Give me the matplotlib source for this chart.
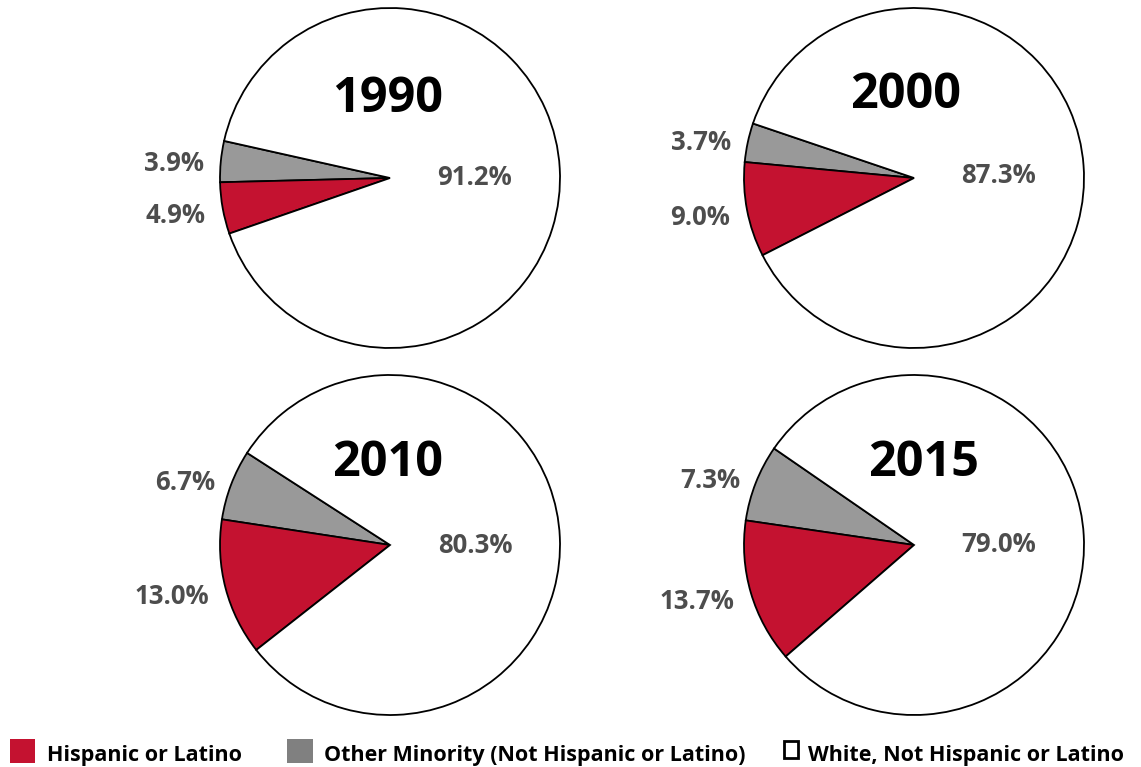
import numpy as np
import matplotlib
matplotlib.use("Agg")
import matplotlib.pyplot as plt
from matplotlib.patches import Rectangle

# data (percent of population)
years = ["1990", "2000", "2010", "2015"]
hispanic = [4.9, 9.0, 13.0, 13.7]
other = [3.9, 3.7, 6.7, 7.3]
white = [91.2, 87.3, 80.3, 79.0]
legend_labels = ["Hispanic or Latino",
                 "Other Minority (Not Hispanic or Latino)",
                 "White, Not Hispanic or Latino"]

# layout (pixel coordinates, y measured from top)
W, H = 1141, 767
centers = [(390, 178), (914, 178), (390, 545), (914, 545)]
year_pos = [(388, 100), (906, 95), (388, 464), (924, 464)]
start_angles = [167.4, 161.3, 147.2, 145.4]
R = 170
dy = -4  # nudge text down a little (font has tall descent box)

red = "#c41230"
gray = "#999999"
text_gray = "#4d4d4d"
lab_style = dict(fontsize=18.5, fontweight="bold", color=text_gray, family="Open Sans")

fig = plt.figure(figsize=(W / 100, H / 100), dpi=100)
ax = fig.add_axes([0, 0, 1, 1])

for i in range(4):
    cx, cy = centers[i]
    vals = [other[i], hispanic[i], white[i]]
    wedges, _ = ax.pie(vals, colors=[gray, red, "white"],
                       startangle=start_angles[i], counterclock=True,
                       center=(cx, H - cy), radius=R,
                       wedgeprops=dict(edgecolor="black", linewidth=1.3))
    # minority labels just outside the pie, right aligned
    for w, v in zip(wedges[:2], vals[:2]):
        mid = np.deg2rad((w.theta1 + w.theta2) / 2)
        ax.text(cx + 1.1 * R * np.cos(mid), H - cy + 1.1 * R * np.sin(mid) + dy,
                "%.1f%%" % v, ha="right", va="center", **lab_style)
    # white share label inside the big slice
    w = wedges[2]
    mid = np.deg2rad((w.theta1 + w.theta2) / 2)
    ax.text(cx + 0.5 * R * np.cos(mid), H - cy + 0.5 * R * np.sin(mid) + dy,
            "%.1f%%" % white[i], ha="center", va="center", **lab_style)
    yx, yy = year_pos[i]
    ax.text(yx, H - yy, years[i], ha="center", va="center", fontsize=35,
            fontweight="bold", color="black", family="Open Sans")

# legend along the bottom
ax.add_patch(Rectangle((10, H - 763), 25, 24, facecolor=red, edgecolor="none"))
ax.add_patch(Rectangle((287, H - 763), 26, 24, facecolor="#808080", edgecolor="none"))
ax.add_patch(Rectangle((784, H - 758), 14, 17, facecolor="white", edgecolor="black", linewidth=2))
for x, lab in zip([47, 324, 808], legend_labels):
    ax.text(x, H - 761, lab, ha="left", va="baseline", fontsize=15.5,
            fontweight="bold", color="black", family="Open Sans")

ax.set_xlim(0, W)
ax.set_ylim(0, H)
ax.set_aspect("equal")
ax.axis("off")

fig.savefig("out.png", dpi=100)
